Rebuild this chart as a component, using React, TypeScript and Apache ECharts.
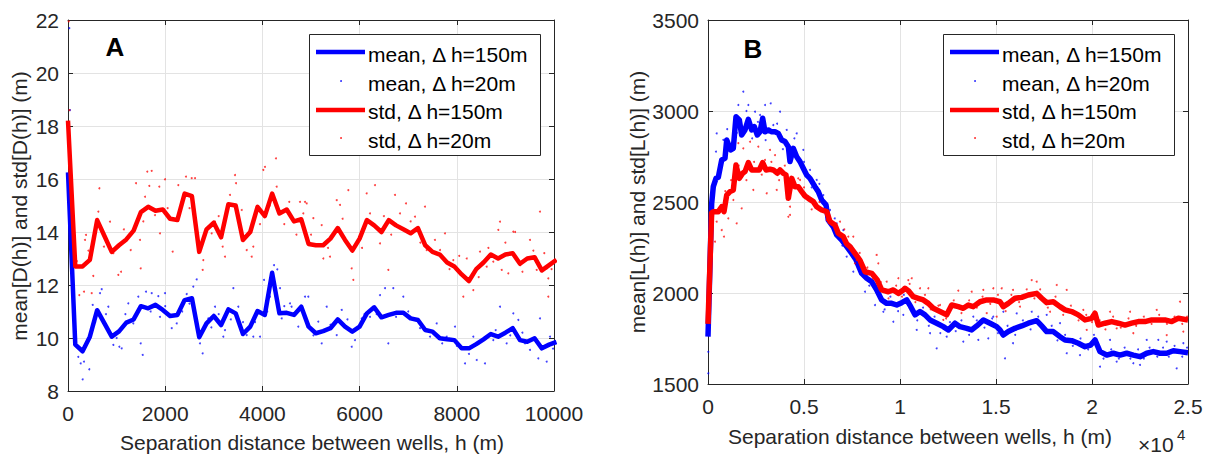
import React, { useEffect, useRef } from "react";
import * as echarts from "echarts";

// ---------------- Panel A data ----------------
const hA = [0, 150, 300, 450, 600, 750, 900, 1050, 1200, 1350, 1500, 1650, 1800, 1950, 2100, 2250, 2400, 2550, 2700, 2850, 3000, 3150, 3300, 3450, 3600, 3750, 3900, 4050, 4200, 4350, 4500, 4650, 4800, 4950, 5100, 5250, 5400, 5550, 5700, 5850, 6000, 6150, 6300, 6450, 6600, 6750, 6900, 7050, 7200, 7350, 7500, 7650, 7800, 7950, 8100, 8250, 8400, 8550, 8700, 8850, 9000, 9150, 9300, 9450, 9600, 9750, 9900, 10050];
const meanA150 = [16.25, 9.75, 9.5, 10.05, 11.05, 10.55, 10.05, 10.25, 10.58, 10.7, 11.2, 11.12, 11.25, 11.06, 10.83, 10.87, 11.43, 11.5, 10.03, 10.55, 10.83, 10.49, 11.08, 10.93, 10.15, 10.43, 11.02, 10.87, 12.46, 10.93, 10.95, 10.87, 11.18, 10.43, 10.18, 10.26, 10.37, 10.7, 10.43, 10.24, 10.43, 10.93, 11.16, 10.78, 10.87, 10.95, 10.95, 10.74, 10.68, 10.3, 10.24, 9.99, 9.95, 9.92, 9.61, 9.61, 9.77, 9.95, 10.15, 10.05, 10.2, 10.37, 9.92, 9.86, 9.99, 9.61, 9.75, 9.85];
const stdA150 = [18.2, 12.7, 12.7, 12.95, 14.45, 13.85, 13.25, 13.5, 13.72, 14.05, 14.75, 14.95, 14.8, 14.85, 14.5, 14.45, 15.45, 15.35, 13.25, 14.1, 14.35, 13.8, 15.05, 15.0, 13.7, 14.0, 14.95, 14.6, 15.45, 14.7, 14.85, 14.4, 14.48, 13.55, 13.5, 13.5, 13.75, 14.15, 13.7, 13.3, 13.75, 14.45, 14.25, 14.0, 14.45, 14.25, 14.1, 13.95, 14.15, 13.5, 13.25, 13.15, 12.85, 12.7, 12.4, 12.15, 12.6, 12.85, 13.15, 13.0, 13.15, 13.2, 12.8, 13.0, 13.05, 12.55, 12.75, 12.95];
const meanA20 = [[27, 21.69], [41, 18.6], [212, 9.29], [261, 9.04], [302, 8.44], [329, 9.11], [438, 8.82], [508, 11.25], [658, 11.69], [693, 11.84], [830, 11.18], [933, 9.74], [1056, 9.67], [1105, 9.61], [1241, 11.31], [1344, 10.55], [1447, 11.56], [1496, 9.8], [1537, 9.36], [1605, 11.75], [1722, 11.69], [1858, 11.58], [1893, 10.8], [1996, 11.69], [2134, 10.37], [2237, 10.55], [2442, 11.66], [2578, 11.94], [2648, 12.21], [2716, 9.8], [2771, 9.42], [2887, 10.74], [3025, 11.18], [3196, 10.05], [3230, 10.3], [3402, 11.88], [3504, 11.18], [3677, 10.11], [3813, 10.05], [3951, 10.05], [4033, 12.19], [4156, 11.56], [4239, 12.75], [4307, 12.59], [4362, 11.88], [4397, 10.74], [4568, 11.31], [4600, 11.18], [4739, 10.43], [4945, 11.56], [4877, 11.56], [5150, 10.62], [5220, 9.8], [5323, 11.18], [5529, 10.11], [5632, 11.06], [5837, 9.67], [5905, 9.92], [6043, 10.74], [6214, 10.8], [6420, 11.62], [6523, 11.88], [6591, 9.8], [6693, 11.88], [6899, 11.56], [7175, 10.68], [7243, 10.37], [7449, 10.05], [7586, 10.55], [7792, 10.05], [7963, 10.43], [8169, 9.04], [8340, 10.05], [8409, 9.17], [8580, 9.04], [8751, 9.92], [8889, 11.18], [9026, 9.8], [9163, 10.93], [9266, 10.68], [9403, 9.8], [9506, 9.55], [9677, 9.23], [9850, 9.11], [9918, 10.05], [9712, 10.74],
  [150, 10.2], [400, 9.9], [560, 10.6], [780, 10.9], [1000, 10.0], [1180, 10.9], [1420, 10.9], [1700, 11.0], [2000, 11.2], [2350, 11.0], [2500, 11.3], [2650, 10.6], [2950, 10.4], [3100, 10.9], [3350, 10.7], [3600, 10.6], [3850, 10.6], [4100, 11.0], [4450, 11.2], [4700, 11.0], [5050, 10.1], [5400, 10.5], [5750, 10.7], [6100, 10.9], [6350, 10.9], [6750, 10.8], [7000, 11.0], [7300, 10.4], [7700, 9.8], [8000, 9.7], [8250, 9.4], [8500, 9.9], [8800, 10.3], [9100, 10.1], [9350, 10.2], [9600, 10.0], [9980, 9.6]];
const stdA20 = [[30, 18.6], [15, 21.95], [233, 11.62], [329, 11.75], [487, 11.69], [350, 13.7], [370, 13.89], [520, 12.34], [645, 15.65], [625, 14.77], [740, 13.45], [864, 14.39], [933, 13.2], [1035, 12.38], [1090, 12.5], [1290, 13.32], [1399, 15.84], [1481, 13.7], [1496, 12.63], [1584, 15.33], [1632, 16.28], [1673, 15.74], [1722, 16.31], [1790, 14.64], [1879, 15.71], [1893, 13.95], [1996, 15.99], [2154, 13.26], [2270, 15.77], [2339, 15.14], [2428, 16.09], [2545, 16.03], [2613, 16.03], [2771, 12.57], [2784, 12.94], [2956, 13.95], [3025, 14.39], [3183, 13.45], [3230, 13.07], [3333, 15.4], [3436, 16.15], [3457, 15.84], [3574, 14.83], [3677, 13.32], [3780, 13.07], [3813, 13.45], [4019, 16.34], [4053, 16.46], [4280, 16.78], [4294, 15.71], [4553, 15.14], [4774, 15.14], [4911, 15.08], [4842, 14.7], [4877, 15.14], [5048, 14.52], [5220, 14.26], [5253, 13.0], [5391, 13.07], [5529, 15.2], [5597, 15.02], [5768, 15.58], [5837, 12.63], [5871, 12.19], [6146, 15.46], [6214, 14.7], [6317, 15.77], [6420, 13.57], [6591, 12.57], [6728, 15.4], [6831, 14.7], [6955, 15.08], [7140, 14.58], [7346, 14.96], [7380, 13.32], [7654, 13.32], [7757, 13.95], [7928, 12.94], [7998, 12.57], [8204, 13.0], [8272, 12.19], [8340, 11.81], [8477, 13.26], [8615, 12.69], [8751, 12.88], [8854, 14.08], [8889, 14.39], [8924, 12.57], [9060, 12.44], [9163, 14.01], [9200, 14.0], [9506, 13.7], [9575, 13.3], [9644, 12.57], [9712, 14.77], [9850, 12.63], [9883, 12.25], [9883, 11.56], [8134, 11.56],
  [180, 12.9], [420, 13.3], [1150, 14.1], [1550, 14.4], [2050, 14.9], [2500, 14.9], [2650, 14.2], [3100, 14.6], [3500, 14.4], [3950, 14.3], [4150, 15.0], [4450, 14.3], [4700, 13.9], [5000, 13.9], [5350, 13.4], [5650, 14.5], [6050, 13.4], [6500, 14.6], [6650, 13.9], [7050, 14.4], [7250, 13.6], [7550, 13.7], [7850, 12.6], [8050, 13.1], [8450, 12.3], [8650, 13.4], [9000, 13.6], [9350, 12.5], [9800, 13.2], [9950, 12.6]];

// ---------------- Panel B data ----------------
const meanB150 = [[0, 1760], [190, 2490], [276, 2584], [417, 2630], [537, 2636], [714, 2731], [885, 2740], [974, 2841], [1182, 2786], [1318, 2795], [1458, 2969], [1632, 2951], [1753, 2868], [1927, 2896], [2101, 2954], [2274, 2896], [2413, 2914], [2569, 2868], [2708, 2886], [2847, 2960], [2969, 2886], [3142, 2896], [3300, 2886], [3490, 2886], [3663, 2877], [3837, 2841], [4010, 2832], [4184, 2804], [4271, 2722], [4443, 2795], [4620, 2749], [4792, 2722], [4963, 2685], [5140, 2648], [5313, 2630], [5573, 2584], [5745, 2557], [5922, 2511], [6146, 2484], [6266, 2401], [6526, 2364], [6703, 2319], [6964, 2291], [7224, 2255], [7484, 2218], [7700, 2185], [8005, 2108], [8266, 2081], [8526, 2062], [8786, 2017], [9047, 1962], [9307, 1943], [9568, 1943], [9828, 1934], [10089, 1947], [10349, 1962], [10560, 1925], [10781, 1880], [11042, 1898], [11302, 1880], [11563, 1852], [11911, 1834], [12255, 1815], [12516, 1797], [12865, 1834], [13125, 1815], [13474, 1806], [13734, 1797], [13995, 1819], [14339, 1852], [14688, 1834], [15036, 1815], [15208, 1797], [15380, 1769], [15641, 1788], [15990, 1806], [16339, 1819], [16682, 1834], [17120, 1848], [17380, 1819], [17641, 1788], [17984, 1788], [18333, 1760], [18594, 1742], [18943, 1738], [19286, 1724], [19635, 1705], [19932, 1714], [20156, 1742], [20417, 1678], [20766, 1659], [21109, 1669], [21458, 1659], [21807, 1669], [22151, 1659], [22500, 1650], [22849, 1669], [23193, 1678], [23542, 1669], [23891, 1669], [24234, 1683], [24583, 1678], [25000, 1672]];
const stdB150 = [[0, 1830], [190, 2440], [276, 2447], [537, 2447], [714, 2474], [833, 2447], [974, 2538], [1146, 2557], [1318, 2566], [1458, 2703], [1632, 2630], [1807, 2658], [1927, 2667], [2101, 2716], [2274, 2676], [2448, 2676], [2673, 2676], [2847, 2716], [3021, 2676], [3229, 2680], [3401, 2676], [3609, 2658], [3750, 2676], [3922, 2658], [4063, 2648], [4184, 2520], [4359, 2630], [4531, 2584], [4703, 2584], [4880, 2557], [5052, 2533], [5224, 2520], [5484, 2502], [5661, 2474], [5922, 2456], [6182, 2447], [6354, 2392], [6615, 2374], [6786, 2328], [7047, 2310], [7224, 2270], [7396, 2255], [7656, 2218], [7917, 2180], [8177, 2117], [8526, 2108], [8818, 2071], [9047, 2017], [9391, 2007], [9651, 2017], [9911, 1998], [10172, 2017], [10260, 2026], [10432, 2013], [10693, 1980], [10953, 1971], [11214, 1962], [11474, 1943], [11734, 1916], [12083, 1898], [12432, 1880], [12693, 1934], [13036, 1925], [13297, 1916], [13557, 1934], [13818, 1925], [14167, 1952], [14516, 1962], [14859, 1962], [15208, 1952], [15380, 1925], [15641, 1943], [15990, 1971], [16339, 1976], [16682, 1989], [17120, 1998], [17380, 1971], [17641, 1947], [17984, 1952], [18333, 1925], [18594, 1907], [18943, 1898], [19286, 1880], [19635, 1852], [19984, 1861], [20156, 1889], [20328, 1824], [20677, 1834], [21026, 1843], [21370, 1834], [21719, 1824], [22068, 1834], [22411, 1843], [22760, 1843], [23109, 1852], [23453, 1852], [23802, 1852], [24151, 1843], [24495, 1861], [25000, 1852]];
const meanB20 = [[16, 1559], [16, 1677], [1839, 3106], [1578, 3033], [2099, 3033], [2969, 3033], [3266, 3042], [3750, 2996], [453, 2877], [797, 2841], [417, 2777], [625, 2703], [2448, 2996], [2708, 2978], [3401, 2923], [4620, 2877], [4963, 2786], [4800, 2731], [5313, 2676], [5661, 2621], [6005, 2538], [6354, 2456], [6703, 2383], [7047, 2346], [7484, 2254], [7568, 2117], [7224, 2200], [1318, 2877], [4099, 2896], [8177, 2007], [8698, 1934], [9130, 1897], [9651, 1842], [10172, 1880], [10870, 1797], [11911, 1696], [11563, 1779], [12432, 1760], [13297, 1733], [14078, 1742], [14599, 1751], [15469, 1641], [12083, 1898], [13818, 1870], [14859, 1870], [15380, 1897], [16078, 1888], [16859, 1897], [17641, 1880], [15885, 1724], [18333, 1834], [18682, 1669], [19375, 1659], [20417, 1595], [21286, 1623], [22151, 1614], [22849, 1742], [23453, 1742], [23891, 1733], [24411, 1586], [24757, 1724], [22500, 1605], [20938, 1742],
  [1000, 2900], [1500, 2880], [2000, 3000], [2300, 2850], [2600, 2940], [3000, 2840], [3600, 2930], [3900, 2790], [4300, 2760], [4500, 2850], [5000, 2720], [5400, 2580], [5800, 2600], [6200, 2440], [6600, 2410], [7000, 2260], [7400, 2260], [7800, 2150], [8100, 2130], [8400, 2040], [8900, 2050], [9200, 1910], [9500, 1980], [9900, 1900], [10200, 1990], [10500, 1920], [10900, 1850], [11200, 1920], [11500, 1820], [11800, 1870], [12100, 1780], [12600, 1840], [12900, 1790], [13200, 1850], [13600, 1770], [14000, 1850], [14400, 1810], [14800, 1860], [15100, 1780], [15600, 1820], [16000, 1770], [16400, 1850], [16800, 1800], [17200, 1870], [17500, 1790], [17900, 1820], [18200, 1740], [18600, 1770], [19000, 1710], [19400, 1750], [19800, 1690], [20100, 1770], [20300, 1700], [20600, 1640], [21000, 1690], [21400, 1640], [21700, 1700], [22000, 1640], [22400, 1690], [22700, 1640], [23000, 1700], [23400, 1650], [23700, 1700], [24000, 1650], [24300, 1710], [24700, 1650], [24950, 1700]];
const stdB20 = [[1578, 2823], [1839, 2795], [2188, 2831], [2620, 2804], [3229, 2786], [3490, 2758], [2969, 2731], [453, 2392], [714, 2346], [833, 2310], [1318, 2511], [1755, 2465], [2359, 2566], [3057, 2548], [3578, 2566], [4271, 2474], [4271, 2429], [4792, 2621], [5224, 2511], [5573, 2484], [6182, 2401], [6875, 2392], [7307, 2310], [7745, 2181], [7656, 2163], [1057, 2410], [1495, 2383], [365, 2282], [4182, 2419], [7568, 2310], [8786, 2209], [8870, 2163], [9307, 2062], [9911, 2081], [10432, 2071], [10609, 2081], [11042, 2026], [11474, 2026], [12083, 1934], [13036, 2013], [13734, 2007], [14339, 2017], [14859, 2026], [15297, 2026], [12255, 1852], [14516, 1889], [15036, 1870], [16859, 2071], [17120, 2062], [18161, 2044], [18682, 2017], [15885, 2017], [16250, 1925], [17813, 1897], [19547, 1907], [20938, 1897], [21979, 1897], [23370, 1907], [24583, 1952], [19724, 1797], [22151, 1779], [23891, 1769], [24757, 1788], [21286, 1806],
  [900, 2560], [1200, 2620], [1600, 2700], [2000, 2620], [2400, 2720], [2800, 2650], [3300, 2720], [3700, 2620], [4000, 2700], [4400, 2580], [4700, 2630], [5000, 2580], [5400, 2460], [5800, 2500], [6300, 2420], [6700, 2330], [7100, 2350], [7500, 2230], [7900, 2220], [8300, 2140], [8600, 2080], [9000, 2060], [9400, 1970], [9800, 2040], [10100, 1980], [10500, 2050], [10800, 1950], [11300, 1990], [11600, 1910], [12000, 1930], [12400, 1860], [12800, 1960], [13200, 1890], [13600, 1960], [14000, 1920], [14300, 1980], [14700, 1940], [15100, 1990], [15500, 1900], [15800, 1990], [16200, 1950], [16600, 2020], [17000, 1970], [17300, 2020], [17700, 1920], [18100, 1980], [18500, 1880], [18900, 1930], [19300, 1850], [19700, 1880], [20000, 1840], [20400, 1850], [20700, 1800], [21100, 1870], [21500, 1810], [21900, 1860], [22300, 1820], [22700, 1870], [23100, 1830], [23500, 1880], [23900, 1830], [24300, 1870], [24700, 1830], [24950, 1870]];

const xTickLabelsB = ["0", "0.5", "1", "1.5", "2", "2.5"];
const legendLabels = ["mean, \u0394 h=150m", "mean, \u0394 h=20m", "std, \u0394 h=150m", "std, \u0394 h=20m"];
const panelLetters = ["A", "B"];
const xTitle = "Separation distance between wells, h (m)";
const yTitles = ["mean[D(h)] and std[D(h)] (m)", "mean[L(h)] and std[L(h)] (m)"];

const FONT = "'Liberation Sans', Arial, Helvetica, sans-serif";
const AXC = "#262626";
const GRIDC = "#e3e3e3";
const BLUE = "#0000ff";
const RED = "#ff0000";

const plain = (v: number) => String(v);

function axisPair(grid: number, dim: "x" | "y", min: number, max: number, interval: number, fmt: (v: number) => string) {
  const isX = dim === "x";
  const common = {
    gridIndex: grid,
    type: "value",
    min,
    max,
    interval,
    axisLine: { show: true, onZero: false, lineStyle: { color: AXC, width: 1 } },
    axisTick: { show: true, inside: true, length: 5, lineStyle: { color: AXC, width: 1 } },
  };
  const main = {
    ...common,
    position: isX ? "bottom" : "left",
    axisLabel: {
      show: true,
      fontSize: 21,
      fontFamily: FONT,
      color: AXC,
      margin: isX ? 12 : 9,
      formatter: fmt,
    },
    splitLine: { show: true, lineStyle: { color: GRIDC, width: 1 } },
  };
  const opp = {
    ...common,
    position: isX ? "top" : "right",
    axisLabel: { show: false },
    splitLine: { show: false },
  };
  return [main, opp];
}

function legendGraphics(x0: number) {
  const els: any[] = [];
  els.push({
    type: "rect",
    z: 100,
    shape: { x: x0 + 0.5, y: 34.5, width: 231, height: 121 },
    style: { fill: "#fff", stroke: AXC, lineWidth: 1 },
  });
  els.push({ type: "line", z: 101, shape: { x1: x0 + 7, y1: 52, x2: x0 + 56, y2: 52 }, style: { stroke: BLUE, lineWidth: 4.7 } });
  els.push({ type: "circle", z: 101, shape: { cx: x0 + 32, cy: 81, r: 0.8 }, style: { fill: BLUE } });
  els.push({ type: "line", z: 101, shape: { x1: x0 + 7, y1: 110, x2: x0 + 56, y2: 110 }, style: { stroke: RED, lineWidth: 4.7 } });
  els.push({ type: "circle", z: 101, shape: { cx: x0 + 32, cy: 138, r: 0.8 }, style: { fill: RED } });
  const ys = [54, 83, 111.5, 140];
  legendLabels.forEach((t, i) => {
    els.push({
      type: "text",
      z: 101,
      x: x0 + 59,
      y: ys[i],
      style: { text: t, fill: "#000", fontSize: 21, fontFamily: FONT, align: "left", verticalAlign: "middle" },
    });
  });
  return els;
}

export default function App() {
  const ref = useRef<HTMLDivElement>(null);
  useEffect(() => {
    if (!ref.current) return;
    const chart = echarts.init(ref.current, null, { renderer: "svg" });
    const [axA, axAt] = axisPair(0, "x", 0, 10000, 2000, plain);
    const [ayA, ayAr] = axisPair(0, "y", 8, 22, 2, plain);
    const [axB, axBt] = axisPair(1, "x", 0, 25000, 5000, (v: number) => xTickLabelsB[Math.round(v / 5000)]);
    const [ayB, ayBr] = axisPair(1, "y", 1500, 3500, 500, plain);

    const lineS = (name: string, data: any, xi: number, yi: number, color: string, w: number, z: number) => ({
      name,
      type: "line",
      xAxisIndex: xi,
      yAxisIndex: yi,
      data,
      showSymbol: false,
      symbol: "none",
      z,
      lineStyle: { color, width: w, join: "round" },
      clip: true,
    });
    const dotS = (name: string, data: any, xi: number, yi: number, color: string, z: number) => ({
      name,
      type: "scatter",
      xAxisIndex: xi,
      yAxisIndex: yi,
      data,
      symbol: "circle",
      symbolSize: 2,
      z,
      itemStyle: { color, opacity: 0.75 },
      clip: true,
    });

    const option: any = {
      animation: false,
      backgroundColor: "#fff",
      textStyle: { fontFamily: FONT },
      grid: [
        { left: 68, top: 20, width: 486, height: 371, containLabel: false },
        { left: 708, top: 20, width: 480, height: 364, containLabel: false },
      ],
      xAxis: [axA, axAt, axB, axBt],
      yAxis: [ayA, ayAr, ayB, ayBr],
      series: [
        lineS(legendLabels[0], hA.map((h, i) => [h, meanA150[i]]), 0, 0, BLUE, 4.5, 2),
        dotS(legendLabels[1], meanA20, 0, 0, BLUE, 3),
        lineS(legendLabels[2], hA.map((h, i) => [h, stdA150[i]]), 0, 0, RED, 4.5, 4),
        dotS(legendLabels[3], stdA20, 0, 0, RED, 5),
        lineS(legendLabels[0], meanB150, 2, 2, BLUE, 5.5, 2),
        dotS(legendLabels[1], meanB20, 2, 2, BLUE, 3),
        lineS(legendLabels[2], stdB150, 2, 2, RED, 5.5, 4),
        dotS(legendLabels[3], stdB20, 2, 2, RED, 5),
      ],
      graphic: [
        ...legendGraphics(309),
        ...legendGraphics(943),
        { type: "text", z: 101, x: 115, y: 47, style: { text: panelLetters[0], fill: "#000", fontSize: 26, fontWeight: "bold", fontFamily: FONT, align: "center", verticalAlign: "middle" } },
        { type: "text", z: 101, x: 753, y: 49, style: { text: panelLetters[1], fill: "#000", fontSize: 26, fontWeight: "bold", fontFamily: FONT, align: "center", verticalAlign: "middle" } },
        { type: "text", x: 312, y: 442, style: { text: xTitle, fill: AXC, fontSize: 21, fontFamily: FONT, align: "center", verticalAlign: "middle" } },
        { type: "text", x: 920, y: 436, style: { text: xTitle, fill: AXC, fontSize: 21, fontFamily: FONT, align: "center", verticalAlign: "middle" } },
        { type: "text", x: 19, y: 206, rotation: Math.PI / 2, style: { text: yTitles[0], fill: AXC, fontSize: 21, fontFamily: FONT, align: "center", verticalAlign: "middle" } },
        { type: "text", x: 637, y: 202, rotation: Math.PI / 2, style: { text: yTitles[1], fill: AXC, fontSize: 21, fontFamily: FONT, align: "center", verticalAlign: "middle" } },
        { type: "text", x: 1138, y: 444, style: { text: "\u00d710", fill: AXC, fontSize: 21, fontFamily: FONT, align: "left", verticalAlign: "middle" } },
        { type: "text", x: 1177, y: 434, style: { text: "4", fill: AXC, fontSize: 15, fontFamily: FONT, align: "left", verticalAlign: "middle" } },
      ],
    };
    chart.setOption(option);
    return () => chart.dispose();
  }, []);
  return <div ref={ref} style={{ position: "absolute", left: 0, top: 0, width: 1206, height: 454 }} />;
}
